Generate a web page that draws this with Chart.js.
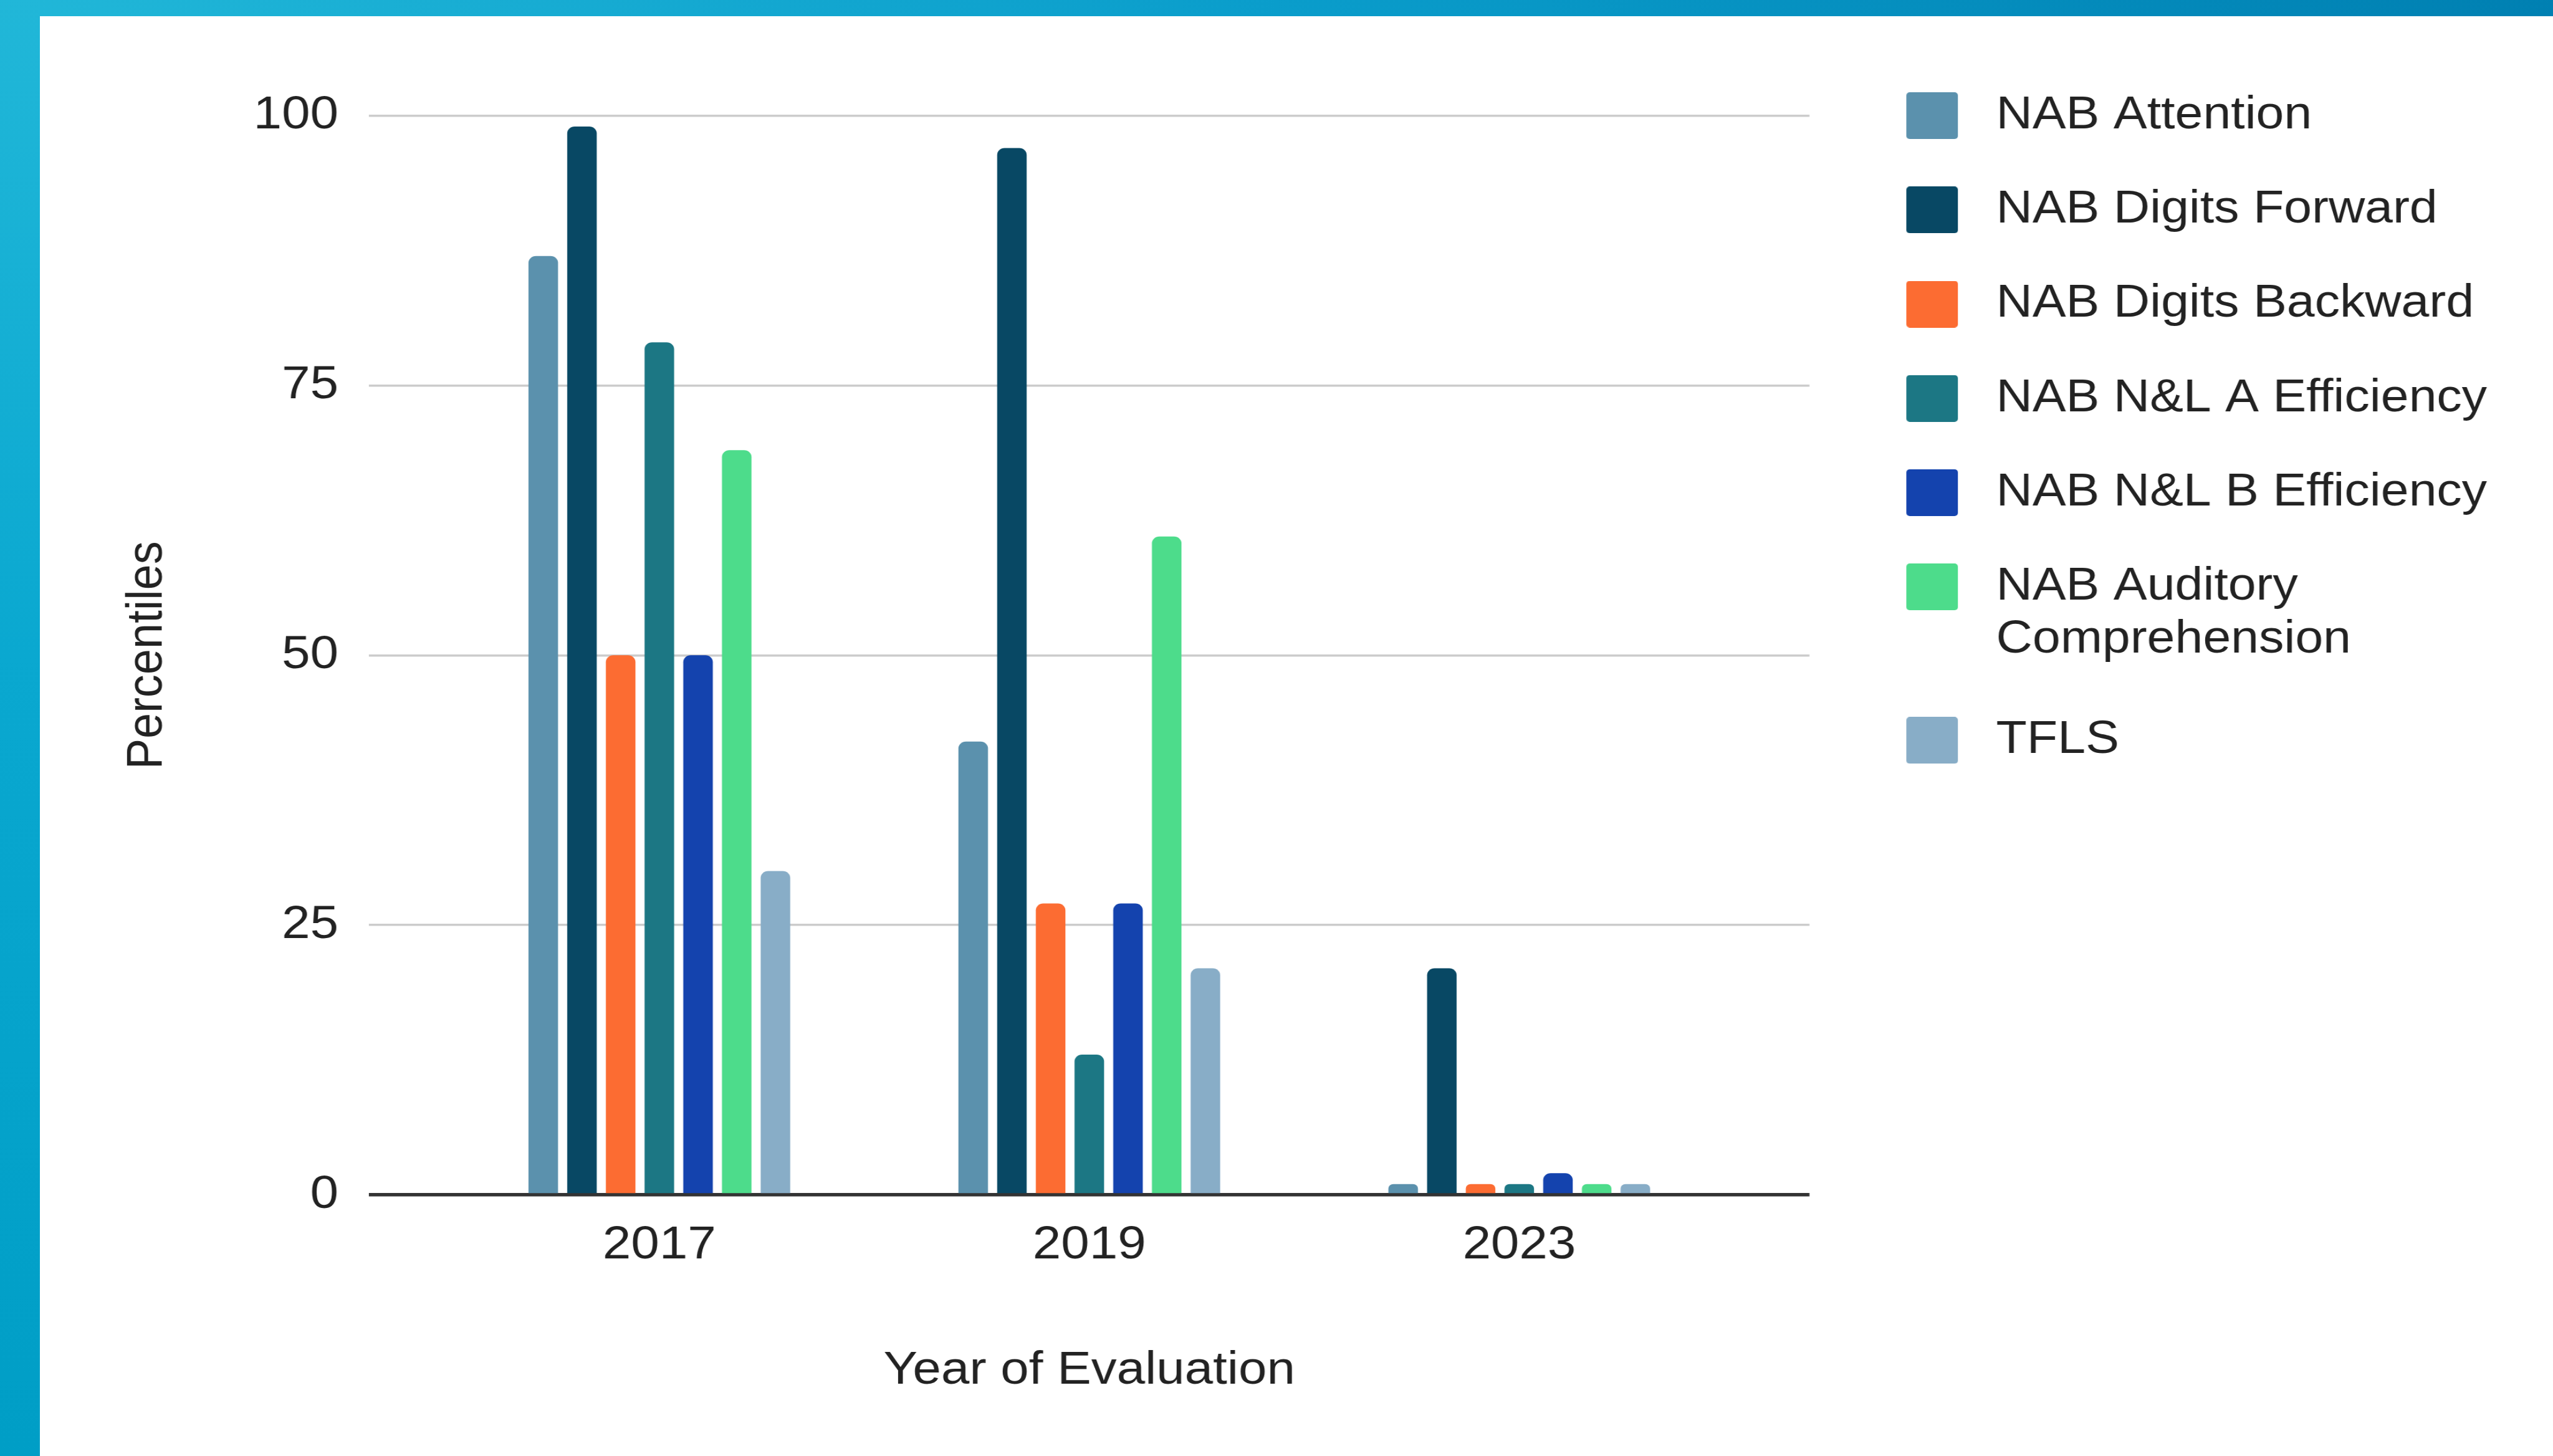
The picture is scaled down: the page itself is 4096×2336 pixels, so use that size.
<!DOCTYPE html>
<html>
<head>
<meta charset="utf-8">
<script src="https://cdn.jsdelivr.net/npm/chart.js@4.4.1/dist/chart.umd.min.js"></script>
<style>
  html, body { margin: 0; padding: 0; overflow: hidden; background: #fff; }
  body { width: 4096px; height: 2336px; position: relative; }
  .strip-top { position: absolute; left: 0; top: 0; width: 4096px; height: 25.5px;
    background: linear-gradient(to right, #21b7d8 0%, #0a9dcb 50%, #0080b2 100%); }
  .strip-left { position: absolute; left: 0; top: 0; width: 64px; height: 2336px;
    background: linear-gradient(to bottom, #21b7d8 0%, #0aa8d0 45%, #009ec6 100%); }
  /* the reference chart is stretched sideways, so the canvas is too */
  .chart-box { position: absolute; left: 0; top: 0; width: 3758px; height: 2336px;
    transform: scaleX(1.08994); transform-origin: 0 0; }
</style>
</head>
<body>
<div class="strip-top"></div>
<div class="strip-left"></div>
<div class="chart-box"><canvas id="chart"></canvas></div>
<script>
// chart data
const years = ['2017', '2019', '2023'];
const seriesNames = [
  'NAB Attention',
  'NAB Digits Forward',
  'NAB Digits Backward',
  'NAB N&L A Efficiency',
  'NAB N&L B Efficiency',
  'NAB Auditory Comprehension',
  'TFLS'
];
const nabAttention = [87, 42, 1];
const nabDigitsForward = [99, 97, 21];
const nabDigitsBackward = [50, 27, 1];
const nabNLAEfficiency = [79, 13, 1];
const nabNLBEfficiency = [50, 27, 2];
const nabAuditory = [69, 61, 1];
const tfls = [30, 21, 1];
const yTicks = [0, 25, 50, 75, 100];

const seriesValues = [nabAttention, nabDigitsForward, nabDigitsBackward,
  nabNLAEfficiency, nabNLBEfficiency, nabAuditory, tfls];
const colors = ['#5b91ad', '#084864', '#fc6c32', '#1c7784', '#1443ae', '#4ddc8b', '#88adc7'];

const FONT = '"Liberation Sans", Arial, sans-serif';
Chart.defaults.font.family = FONT;
Chart.defaults.color = '#222';

// legend swatch: transparent on the left, rounded square on the right
function swatch(color) {
  const c = document.createElement('canvas');
  c.width = 122;
  c.height = 75;
  const g = c.getContext('2d');
  g.fillStyle = color;
  g.beginPath();
  g.roundRect(46, 0, 76, 75, 5);
  g.fill();
  return c;
}

const datasets = seriesNames.map((name, i) => ({
  label: name,
  data: seriesValues[i].map((v, j) => ({ x: j, y: v })),
  backgroundColor: colors[i],
  borderWidth: 0,
  borderRadius: { topLeft: 11, topRight: 11, bottomLeft: 0, bottomRight: 0 },
  borderSkipped: 'start'
}));

new Chart(document.getElementById('chart'), {
  type: 'bar',
  data: { datasets: datasets },
  options: {
    responsive: true,
    maintainAspectRatio: false,
    animation: false,
    categoryPercentage: 0.63,
    barPercentage: 0.764,
    layout: { padding: { left: 173.6, right: 87.2, top: 71.4, bottom: 92 } },
    scales: {
      x: {
        type: 'linear',
        offset: false,
        min: -0.675,
        max: 2.675,
        afterBuildTicks: (scale) => { scale.ticks = years.map((y, i) => ({ value: i })); },
        grid: { display: false },
        border: { display: false },
        ticks: {
          autoSkip: false,
          maxRotation: 0,
          padding: 28.7,
          font: { size: 75, lineHeight: 1.2 },
          color: '#222',
          callback: (v) => years[v]
        },
        title: {
          display: true,
          text: 'Year of Evaluation',
          font: { size: 75, lineHeight: 1.2 },
          color: '#222',
          padding: { top: 81.6, bottom: 0 }
        }
      },
      y: {
        min: 0,
        max: 100,
        afterBuildTicks: (scale) => { scale.ticks = yTicks.map(v => ({ value: v })); },
        border: { display: false },
        grid: {
          drawTicks: false,
          color: (ctx) => ctx.tick && ctx.tick.value === 0 ? '#333333' : '#cccccc',
          lineWidth: (ctx) => ctx.tick && ctx.tick.value === 0 ? 5.5 : 3.5
        },
        ticks: {
          padding: 45.1,
          font: { size: 75, lineHeight: 1.2 },
          color: '#222'
        },
        title: {
          display: true,
          text: 'Percentiles',
          font: { size: 74, lineHeight: 1.2 },
          color: '#222',
          padding: { top: 0, bottom: 65.6 }
        }
      }
    },
    plugins: {
      tooltip: { enabled: false },
      // empty title only keeps the plot below the first legend row
      title: {
        display: true,
        text: '',
        fullSize: false,
        padding: 0,
        font: { size: 1, lineHeight: 114.2 }
      },
      legend: {
        position: 'right',
        align: 'start',
        maxWidth: 3000,
        labels: {
          usePointStyle: true,
          pointStyleWidth: 160.6,
          padding: 77.2,
          color: '#222',
          font: { size: 74, lineHeight: 1.142 },
          generateLabels: (chart) => chart.data.datasets.map((ds, i) => ({
            text: ds.label === 'NAB Auditory Comprehension' ? ['NAB Auditory', 'Comprehension'] : ds.label,
            fillStyle: colors[i],
            strokeStyle: colors[i],
            lineWidth: 0,
            pointStyle: swatch(colors[i]),
            hidden: false,
            datasetIndex: i,
            fontColor: '#222'
          }))
        }
      }
    }
  }
});
</script>
</body>
</html>
